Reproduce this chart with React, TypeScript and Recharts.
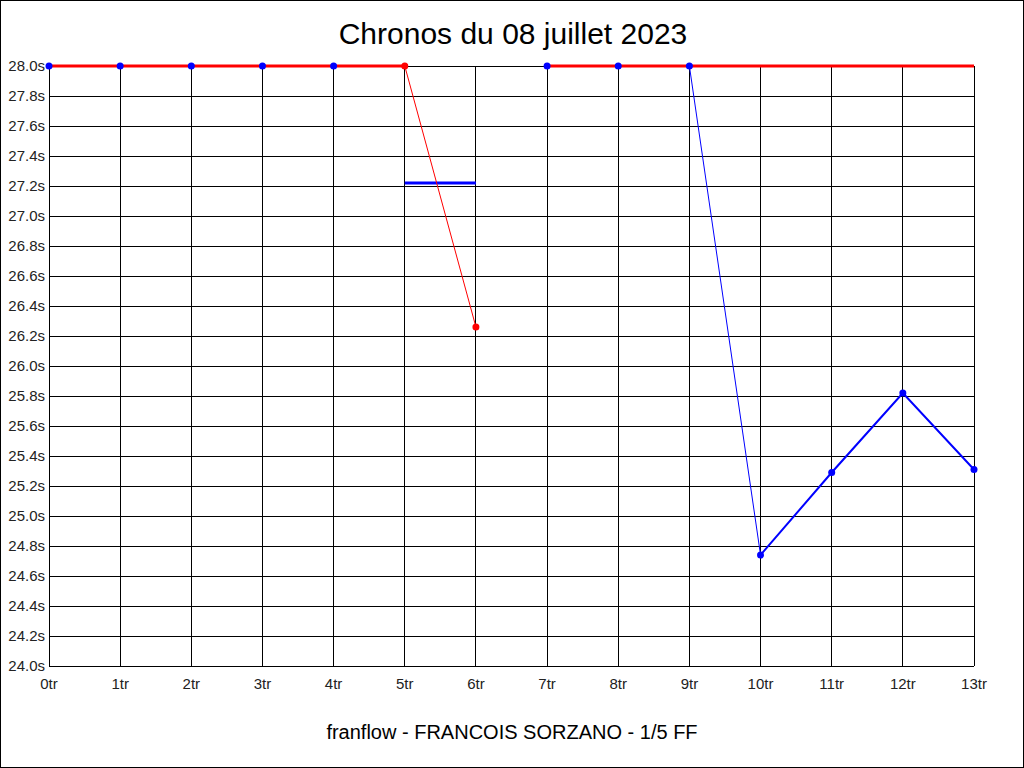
import { CartesianGrid, Line, LineChart, XAxis, YAxis } from "recharts";

// Tours, temps (s). 28.0 = plafond de l'échelle.
const TOURS = ["0tr", "1tr", "2tr", "3tr", "4tr", "5tr", "6tr", "7tr", "8tr", "9tr", "10tr", "11tr", "12tr", "13tr"];

const plafond = [28, 28, 28, 28, 28, 28, null, 28, 28, 28, 28, 28, 28, 28];
const chuteRouge = [null, null, null, null, null, 28, 26.26, null, null, null, null, null, null, null];
const moyenne = [null, null, null, null, null, 27.22, 27.22, null, null, null, null, null, null, null];
const chuteBleue = [null, null, null, null, null, null, null, null, null, 28, 24.74, null, null, null];
const finBleue = [null, null, null, null, null, null, null, null, null, null, 24.74, 25.29, 25.82, 25.31];
const points = [28, 28, 28, 28, 28, null, null, 28, 28, 28, 24.74, 25.29, 25.82, 25.31];

const Y_TICKS = [24, 24.2, 24.4, 24.6, 24.8, 25, 25.2, 25.4, 25.6, 25.8, 26, 26.2, 26.4, 26.6, 26.8, 27, 27.2, 27.4, 27.6, 27.8, 28];

const data = TOURS.map((t, i) => ({
  tour: t,
  plafond: plafond[i],
  chuteRouge: chuteRouge[i],
  moyenne: moyenne[i],
  chuteBleue: chuteBleue[i],
  finBleue: finBleue[i],
  points: points[i],
}));

const FONT = "'Liberation Sans', Arial, sans-serif";
const ROUGE = "#ff0000";
const BLEU = "#0000ff";
const tick = { fontSize: 15, fill: "#222", fontFamily: FONT };
const fmt = (v: number) => v.toFixed(1) + "s";

export default function App() {
  return (
    <div style={{ position: "absolute", left: 0, top: 0, width: 1024, height: 768, background: "#fff" }}>
      <LineChart
        width={1024}
        height={768}
        data={data}
        margin={{ top: 66, right: 5, bottom: 72, left: 4 }}
      >
        <CartesianGrid yAxisId="g" stroke="#000" strokeOpacity={1} shapeRendering="crispEdges" />
        <XAxis
          dataKey="tour"
          axisLine={false}
          tickLine={false}
          tickSize={0}
          tickMargin={12}
          height={30}
          interval={0}
          fontSize={15}
          tick={tick}
        />
        <YAxis
          yAxisId="g"
          domain={[24, 28]}
          ticks={Y_TICKS}
          tickFormatter={fmt}
          axisLine={false}
          tickLine={false}
          tickSize={0}
          tickMargin={4}
          width={45}
          interval={0}
          fontSize={15}
          tick={tick}
        />
        <YAxis
          yAxisId="d"
          orientation="right"
          domain={[24, 28]}
          ticks={Y_TICKS}
          tickFormatter={fmt}
          axisLine={false}
          tickLine={false}
          tickSize={0}
          tickMargin={4}
          width={45}
          interval={0}
          fontSize={15}
          tick={tick}
        />
        <Line yAxisId="g" dataKey="plafond" stroke={ROUGE} strokeWidth={3} dot={false} isAnimationActive={false} />
        <Line yAxisId="g" dataKey="moyenne" stroke={BLEU} strokeWidth={3} dot={false} isAnimationActive={false} />
        <Line
          yAxisId="g"
          dataKey="chuteRouge"
          stroke={ROUGE}
          strokeWidth={1}
          dot={{ r: 3.5, fill: ROUGE, stroke: "none" }}
          isAnimationActive={false}
        />
        <Line yAxisId="g" dataKey="chuteBleue" stroke={BLEU} strokeWidth={1} dot={false} isAnimationActive={false} />
        <Line yAxisId="g" dataKey="finBleue" stroke={BLEU} strokeWidth={2} dot={false} isAnimationActive={false} />
        <Line
          yAxisId="g"
          dataKey="points"
          stroke="none"
          dot={{ r: 3.5, fill: BLEU, stroke: "none" }}
          isAnimationActive={false}
        />
      </LineChart>
      <svg
        width={1024}
        height={768}
        style={{ position: "absolute", left: 0, top: 0, pointerEvents: "none" }}
      >
        <rect x={0.5} y={0.5} width={1023} height={767} fill="none" stroke="#000" />
        <text x={513} y={44} textAnchor="middle" fontSize={30} fontFamily={FONT} fill="#000">
          Chronos du 08 juillet 2023
        </text>
        <text x={512} y={739} textAnchor="middle" fontSize={20} fontFamily={FONT} fill="#000">
          franflow - FRANCOIS SORZANO - 1/5 FF
        </text>
      </svg>
    </div>
  );
}
